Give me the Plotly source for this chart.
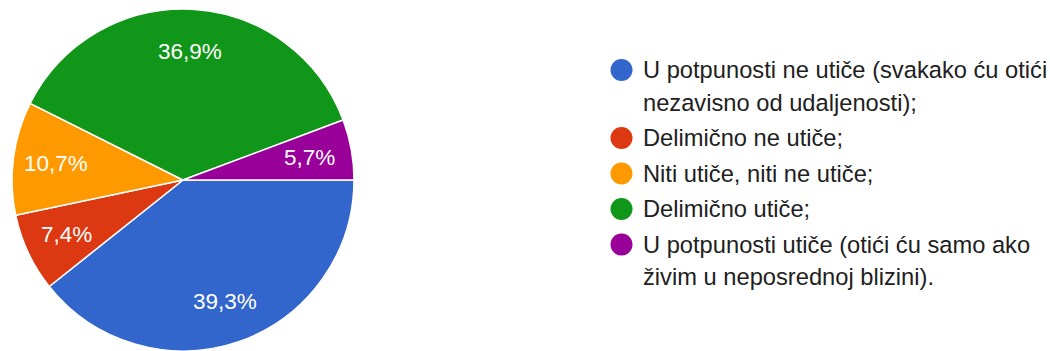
import math
import plotly.graph_objects as go

# Survey answers and their shares (percent)
labels = [
    "U potpunosti ne utiče (svakako ću otići<br>nezavisno od udaljenosti);",
    "Delimično ne utiče;",
    "Niti utiče, niti ne utiče;",
    "Delimično utiče;",
    "U potpunosti utiče (otići ću samo ako<br>živim u neposrednoj blizini).",
]
shares = [39.3, 7.4, 10.7, 36.9, 5.7]
colors = ["#3366CC", "#DC3912", "#FF9900", "#109618", "#990099"]

W, H = 1050, 351
FONT = "Liberation Sans, Arial, sans-serif"

# Pie placement in pixels
pie_left, pie_right = 11, 355
pie_top, pie_bottom = 9, 351
cx = (pie_left + pie_right) / 2
r = min(pie_right - pie_left, pie_bottom - pie_top) / 2
cy = pie_bottom - r  # pixel row of the centre, measured from the top

fig = go.Figure()
fig.add_trace(go.Pie(
    labels=[l.replace("<br>", " ") for l in labels],
    values=shares,
    sort=False,
    direction="clockwise",
    rotation=90,
    marker=dict(colors=colors, line=dict(color="white", width=1.5)),
    textinfo="none",
    hoverinfo="label+percent",
    showlegend=False,
    domain=dict(x=[pie_left / W, pie_right / W], y=[1 - pie_bottom / H, 1 - pie_top / H]),
))

annotations = []
shapes = []

# Percentage labels inside the slices, placed along each slice's mid-angle
total = sum(shares)
cum = 0.0
for v in shares:
    mid = (cum + v / 2) / total * 2 * math.pi  # clockwise from 3 o'clock
    cum += v
    px = cx + 0.75 * r * math.cos(mid)
    py = cy + 0.75 * r * math.sin(mid)
    annotations.append(dict(
        x=px / W, y=1 - py / H, xref="paper", yref="paper",
        text=f"{v:.1f}%".replace(".", ","), showarrow=False,
        xanchor="center", yanchor="middle",
        font=dict(family=FONT, size=22.5, color="white"),
    ))

# Legend: coloured dots with wrapped labels
dot_x, text_x = 621.5, 641
dot_d = 22
y = 70
line_step, item_step = 32.5, 35.5
for lab, col in zip(labels, colors):
    lines = lab.split("<br>")
    shapes.append(dict(
        type="circle", xref="paper", yref="paper",
        x0=(dot_x - dot_d / 2) / W, x1=(dot_x + dot_d / 2) / W,
        y0=1 - (y + dot_d / 2) / H, y1=1 - (y - dot_d / 2) / H,
        fillcolor=col, line=dict(width=0),
    ))
    for i, ln in enumerate(lines):
        annotations.append(dict(
            x=text_x / W, y=1 - y / H, xref="paper", yref="paper",
            text=ln, showarrow=False, xanchor="left", yanchor="middle",
            font=dict(family=FONT, size=23.7, color="#212121"),
        ))
        if i < len(lines) - 1:
            y += line_step
    y += item_step

fig.update_layout(
    width=W, height=H,
    margin=dict(l=0, r=0, t=0, b=0),
    paper_bgcolor="white", plot_bgcolor="white",
    annotations=annotations, shapes=shapes,
)

fig.write_html("out.html")
